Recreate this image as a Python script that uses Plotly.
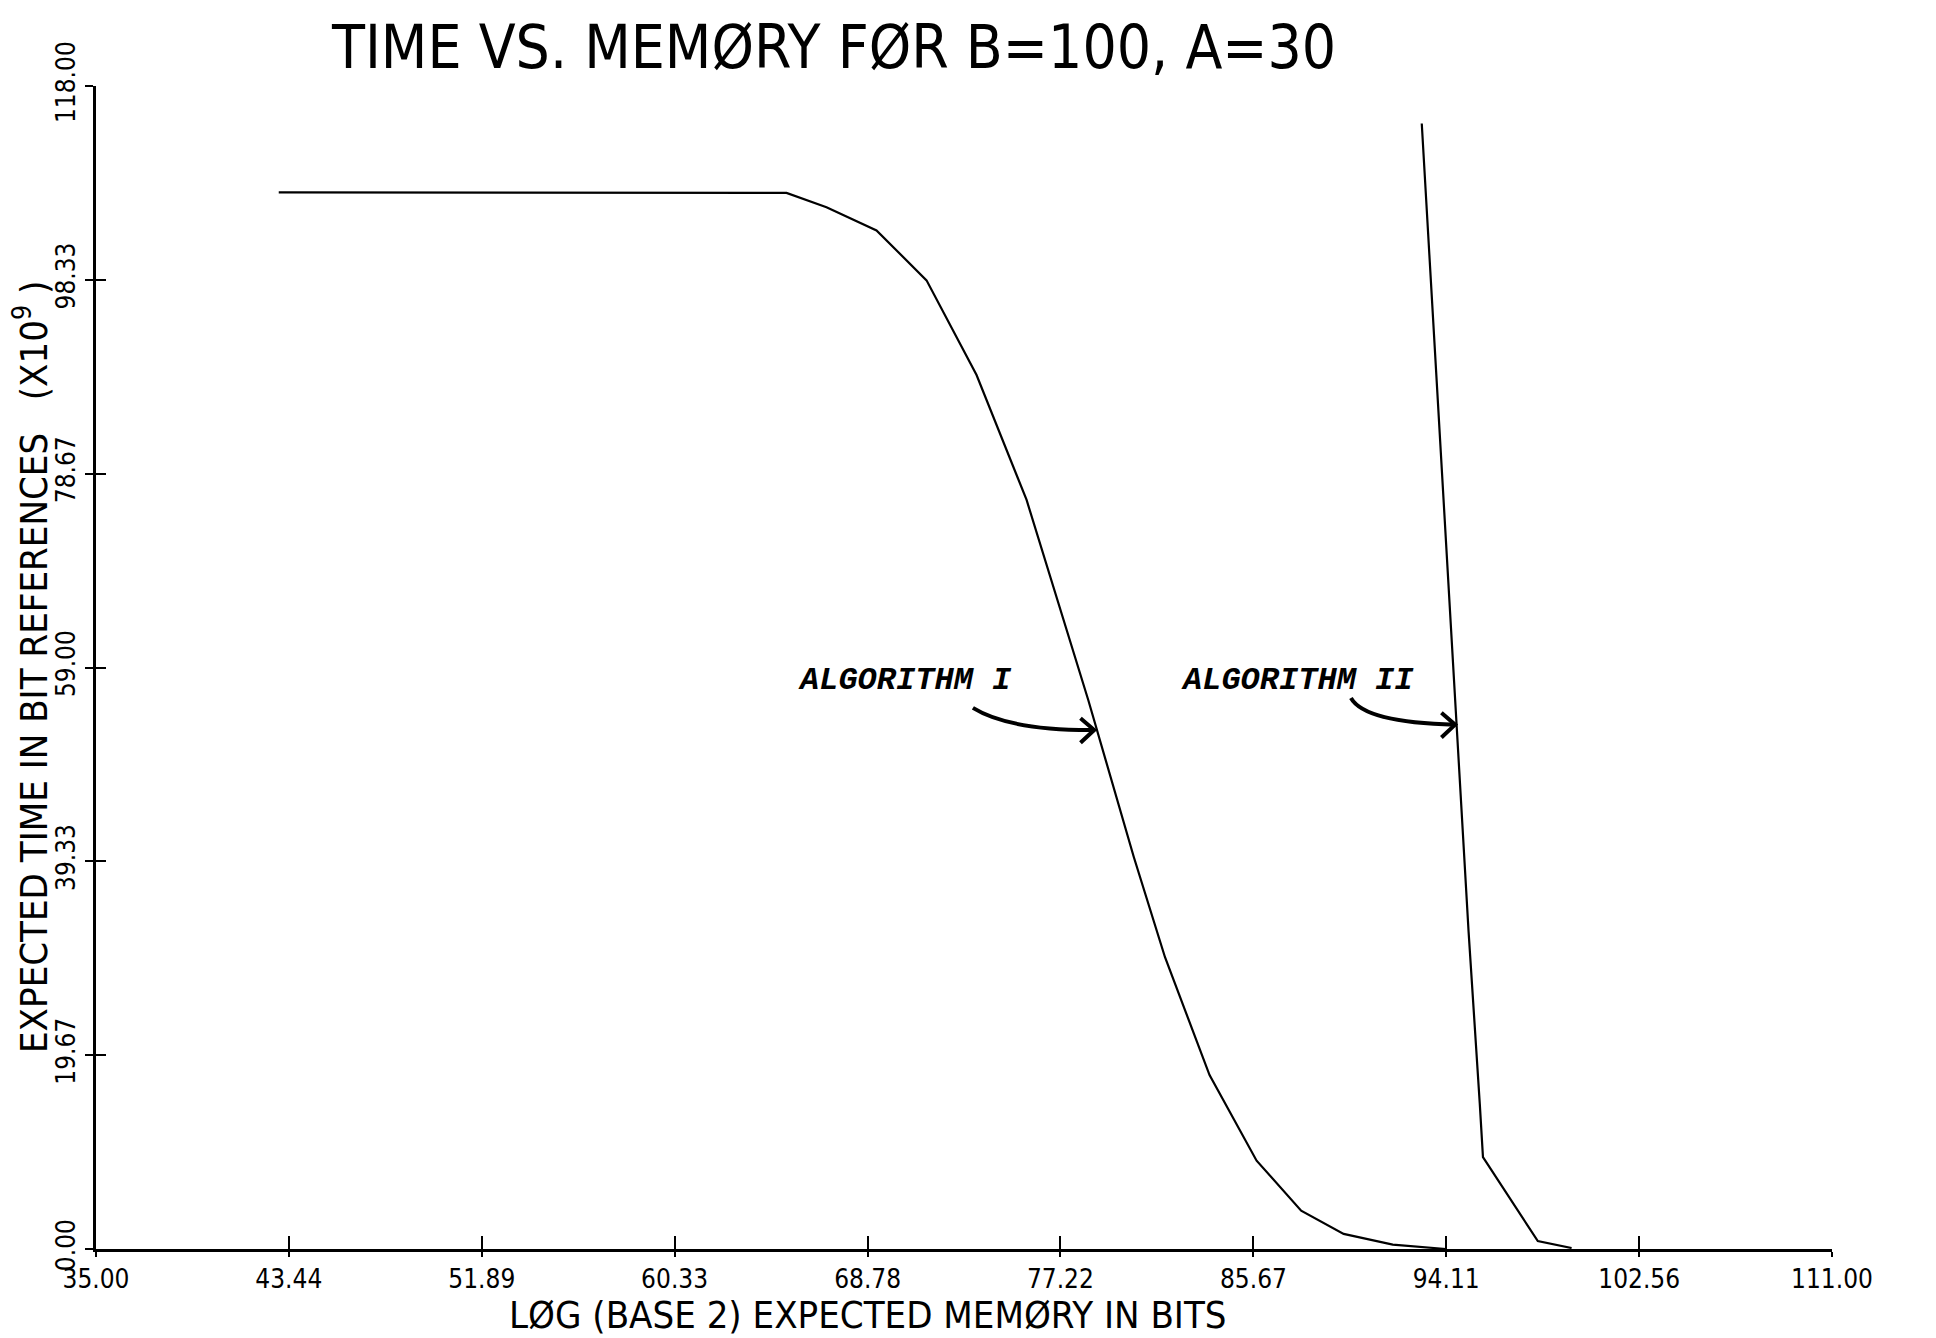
import plotly.graph_objects as go

# ---- data ----
alg1_x = [43.0, 65.23, 66.98, 69.17, 71.36, 73.55, 75.74, 77.2, 78.44, 80.43, 81.8, 83.75, 85.81, 87.76, 89.62, 91.77, 94.1]
alg1_y = [107.2, 107.15, 105.7, 103.35, 98.28, 88.68, 76.0, 65.1, 55.7, 39.8, 29.6, 17.65, 8.96, 3.89, 1.53, 0.45, 0.0]

alg2_x = [93.04, 94.51, 95.09, 95.58, 95.72, 98.12, 99.6]
alg2_y = [114.2, 55.7, 32.2, 14.75, 9.33, 0.8, 0.1]

x_ticks = [35.0, 43.44, 51.89, 60.33, 68.78, 77.22, 85.67, 94.11, 102.56, 111.0]
x_tick_text = ["35.00", "43.44", "51.89", "60.33", "68.78", "77.22", "85.67", "94.11", "102.56", "111.00"]
y_ticks = [0.0, 19.67, 39.33, 59.0, 78.67, 98.33, 118.0]
y_tick_text = ["0.00", "19.67", "39.33", "59.00", "78.67", "98.33", "118.00"]

title_text = "TIME VS. MEMØRY FØR B=100, A=30"
x_title = "LØG (BASE 2) EXPECTED MEMØRY IN BITS"
y_title = "EXPECTED TIME IN BIT REFERENCES\u00a0\u00a0\u00a0(X10<sup>9</sup>\u00a0)"

labels = ["ALGORITHM I", "ALGORITHM II"]
label_x = [70.41, 87.62]
label_y = [57.7, 57.7]
# arrows: tail, control, head
arrow_tail = [(73.39, 54.9), (89.94, 55.9)]
arrow_ctrl = [(75.0, 52.6), (90.55, 53.4)]
arrow_head = [(78.7, 52.66), (94.5, 53.2)]

PLOT_FONT = "Liberation Sans Narrow, DejaVu Sans Condensed, Arial Narrow, sans-serif"
NOTE_FONT = "Liberation Mono, DejaVu Sans Mono, Courier New, monospace"

# plot-area geometry in pixels (used to place titles in paper coordinates)
FIG_W, FIG_H = 1936, 1338
M_L, M_R, M_T, M_B = 96, 104, 86, 89
PW = FIG_W - M_L - M_R
PH = FIG_H - M_T - M_B


def px_to_paper(px, py):
    return (px - M_L) / PW, (FIG_H - M_B - py) / PH


fig = go.Figure()
fig.add_trace(go.Scatter(x=alg1_x, y=alg1_y, mode="lines",
                         line=dict(color="black", width=2.2), showlegend=False))
fig.add_trace(go.Scatter(x=alg2_x, y=alg2_y, mode="lines",
                         line=dict(color="black", width=2.2), showlegend=False))
# invisible trace so the overlay axes (inner half of the cross ticks) get drawn
fig.add_trace(go.Scatter(x=alg1_x, y=alg1_y, xaxis="x2", yaxis="y2", mode="markers",
                         marker=dict(opacity=0), showlegend=False, hoverinfo="skip"))

shapes = []
for (tx, ty), (cx, cy), (hx, hy) in zip(arrow_tail, arrow_ctrl, arrow_head):
    path = f"M {tx},{ty} Q {cx},{cy} {hx},{hy}"
    shapes.append(dict(type="path", path=path, xref="x", yref="y",
                       line=dict(color="black", width=4)))
    head = f"M {hx-0.6},{hy+1.2} L {hx},{hy} L {hx-0.6},{hy-1.3}"
    shapes.append(dict(type="path", path=head, xref="x", yref="y",
                       line=dict(color="black", width=4)))

annotations = []
for t, x, y in zip(labels, label_x, label_y):
    annotations.append(dict(text=f"<b><i>{t}</i></b>", x=x, y=y, xref="x", yref="y",
                            showarrow=False, font=dict(family=NOTE_FONT, size=32, color="black")))
tx, ty = px_to_paper(833, 47)
annotations.append(dict(text=title_text, x=tx, y=ty, xref="paper", yref="paper",
                        xanchor="center", yanchor="middle", showarrow=False,
                        font=dict(family=PLOT_FONT, size=60, color="black")))
tx, ty = px_to_paper(868, 1338)
annotations.append(dict(text=x_title, x=tx, y=ty, xref="paper", yref="paper",
                        xanchor="center", yanchor="bottom", showarrow=False, borderpad=0,
                        font=dict(family=PLOT_FONT, size=38, color="black")))
tx, ty = px_to_paper(31, 667)
annotations.append(dict(text=y_title, x=tx, y=ty, xref="paper", yref="paper",
                        xanchor="center", yanchor="middle", showarrow=False, textangle=-90,
                        font=dict(family=PLOT_FONT, size=38, color="black")))

axis_common = dict(showgrid=False, zeroline=False)
fig.update_layout(
    width=FIG_W, height=FIG_H,
    margin=dict(l=M_L, r=M_R, t=M_T, b=M_B),
    paper_bgcolor="white", plot_bgcolor="white",
    xaxis=dict(range=[35, 111], tickvals=x_ticks, ticktext=x_tick_text,
               ticks="outside", ticklen=5, tickwidth=2, tickcolor="black",
               showline=True, linecolor="black", linewidth=2.5,
               tickfont=dict(family=PLOT_FONT, size=26, color="black"), **axis_common),
    yaxis=dict(range=[0, 118], tickvals=y_ticks, ticktext=y_tick_text,
               ticks="outside", ticklen=8, tickwidth=2, tickcolor="black", tickangle=-90,
               showline=True, linecolor="black", linewidth=2.5,
               tickfont=dict(family=PLOT_FONT, size=26, color="black"), **axis_common),
    xaxis2=dict(range=[35, 111], overlaying="x", anchor="y2", side="bottom", tickvals=x_ticks,
                ticks="inside", ticklen=13, tickwidth=2, tickcolor="black",
                showticklabels=False, showline=False, **axis_common),
    yaxis2=dict(range=[0, 118], overlaying="y", anchor="x2", side="left", tickvals=y_ticks,
                ticks="inside", ticklen=10, tickwidth=2, tickcolor="black",
                showticklabels=False, showline=False, **axis_common),
    shapes=shapes,
    annotations=annotations,
)

fig.write_html("out.html")
